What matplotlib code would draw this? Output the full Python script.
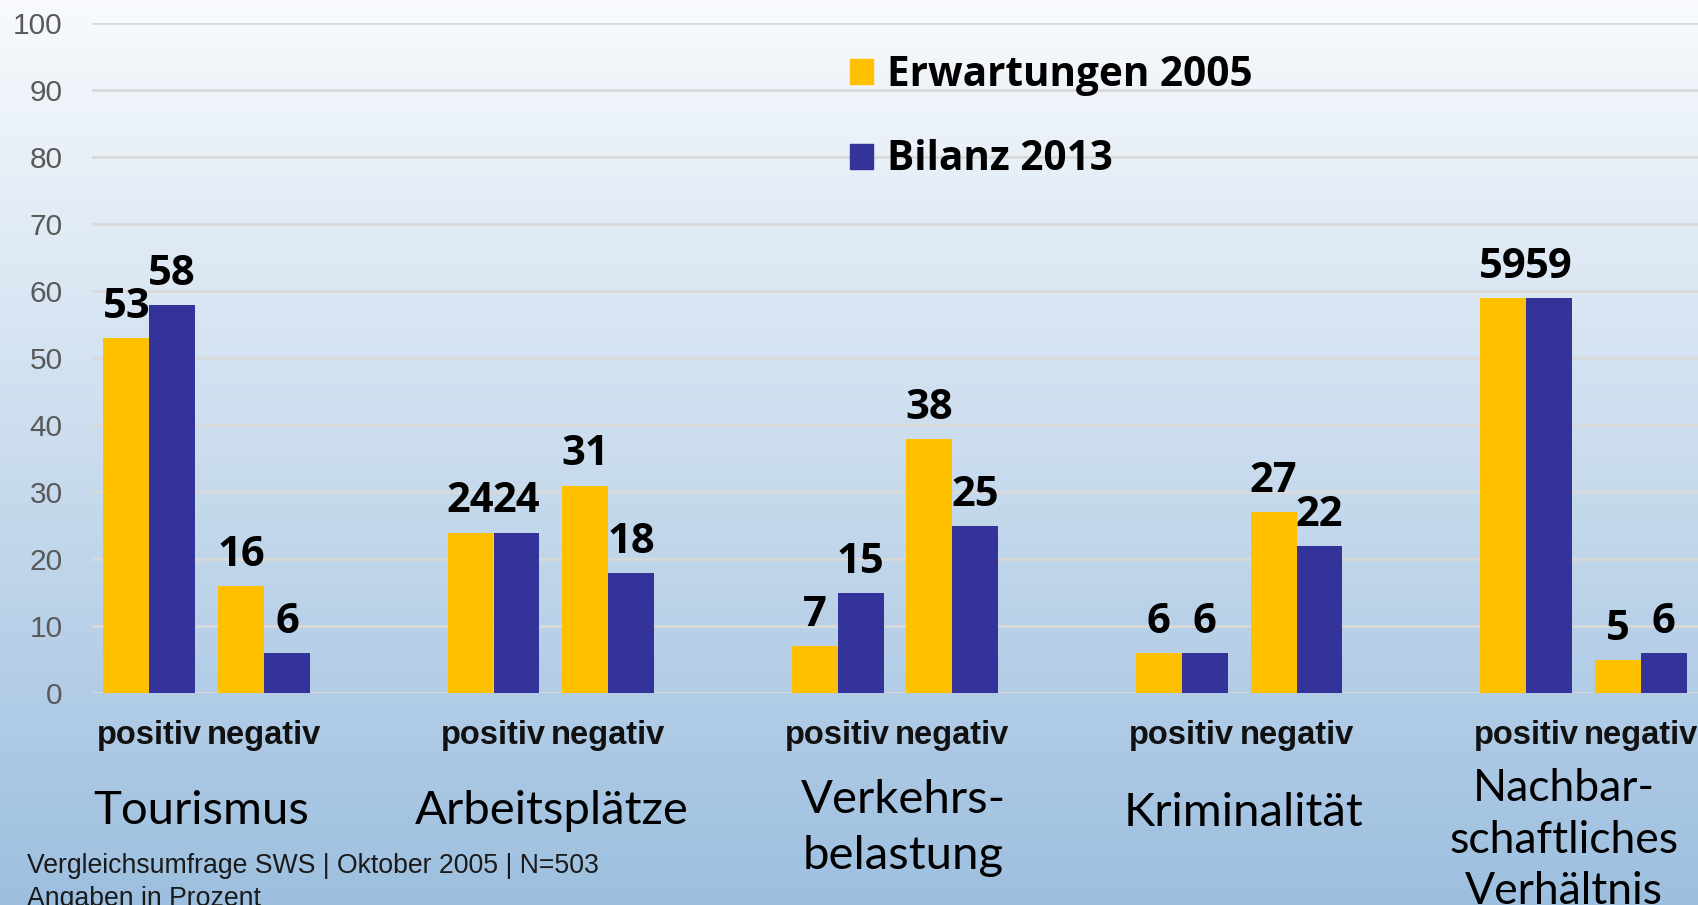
import numpy as np
import matplotlib
matplotlib.use("Agg")
import matplotlib.pyplot as plt
import matplotlib.transforms as mtransforms
from matplotlib.patches import Patch

categories = ["Tourismus", "Arbeitsplätze", "Verkehrs-\nbelastung", "Kriminalität",
              "Nachbar-\nschaftliches\nVerhältnis"]
sub_labels = ["positiv", "negativ"]
erwartungen_pos = [53, 24, 7, 6, 59]
erwartungen_neg = [16, 31, 38, 27, 5]
bilanz_pos = [58, 24, 15, 6, 59]
bilanz_neg = [6, 18, 25, 22, 6]
yticks = [0, 10, 20, 30, 40, 50, 60, 70, 80, 90, 100]
legend_labels = ["Erwartungen 2005", "Bilanz 2013"]
footer = ["Vergleichsumfrage SWS | Oktober 2005 | N=503", "Angaben in Prozent"]

YELLOW = "#FFC000"
BLUE = "#333399"

W, H, DPI = 1698, 905, 100
fig = plt.figure(figsize=(W / DPI, H / DPI), dpi=DPI)

# gradient background
bg = fig.add_axes([0, 0, 1, 1], zorder=-10)
top_c = np.array([248, 250, 253]) / 255
bot_c = np.array([157, 191, 223]) / 255
t = np.linspace(0, 1, 256)[:, None]
grad = top_c[None, :] * (1 - t) + bot_c[None, :] * t
bg.imshow(grad[:, None, :], aspect="auto", extent=[0, 1, 0, 1])
bg.set_axis_off()

ax = fig.add_axes([92 / W, 211.7 / H, 1606 / W, 670 / H])
ax.set_facecolor("none")

n = len(categories)
pos_x = np.array([3 * i for i in range(n)])
neg_x = pos_x + 1
bw = 0.4

ery = []
bly = []
xs = []
for i in range(n):
    xs += [pos_x[i], neg_x[i]]
    ery += [erwartungen_pos[i], erwartungen_neg[i]]
    bly += [bilanz_pos[i], bilanz_neg[i]]
xs = np.array(xs)

b1 = ax.bar(xs - bw / 2, ery, width=bw, color=YELLOW, zorder=3, label=legend_labels[0])
b2 = ax.bar(xs + bw / 2, bly, width=bw, color=BLUE, zorder=3, label=legend_labels[1])

lab_font = dict(family="Open Sans", weight="bold", size=30, color="black")
for bars in (b1, b2):
    for r in bars:
        h = r.get_height()
        ax.annotate(f"{h:g}", (r.get_x() + r.get_width() / 2, h),
                    xytext=(0, 14.5), textcoords="offset points",
                    ha="center", va="baseline", annotation_clip=False, **lab_font)

ax.set_xlim(-0.5, 13.5)
ax.set_ylim(0, 100)
ax.set_yticks(yticks)
ax.set_yticklabels([str(v) for v in yticks], family="Liberation Sans", fontsize=21.5, color="#595959")
ax.set_xticks(xs)
ax.set_xticklabels(sub_labels * n, family="Liberation Sans", weight="bold", fontsize=23.5, color="#111111")
ax.tick_params(axis="both", length=0)
ax.tick_params(axis="y", pad=21)
ax.tick_params(axis="x", pad=19.5)
ax.grid(axis="y", color="#d9d9d9", linewidth=2, zorder=0)
for s in ax.spines.values():
    s.set_visible(False)

# category names
tr = mtransforms.blended_transform_factory(ax.transData, fig.transFigure)
cat_x = [0.5 + pos_x[0] - 0.05, 0.5 + pos_x[1] + 0.01, 0.5 + pos_x[2] + 0.07,
         0.5 + pos_x[3] + 0.035, pos_x[4] + 0.33]
cat_y = [811, 811, 828, 813, 840]
cat_size = [34, 34, 34, 34, 32]
cat_ls = [1.15, 1.15, 1.42, 1.15, 1.33]
for i, c in enumerate(categories):
    ax.text(cat_x[i], 1 - cat_y[i] / H, c, transform=tr, ha="center", va="center",
            family="Lato", fontsize=cat_size[i], color="black", linespacing=cat_ls[i])

# legend
handles = [Patch(color=YELLOW), Patch(color=BLUE)]
leg = ax.legend(handles, legend_labels, loc="upper left", bbox_to_anchor=(850 / W, 1 - 55 / H),
                bbox_transform=fig.transFigure, frameon=False,
                prop=dict(family="Open Sans", weight="bold", size=29.2),
                handlelength=0.57, handleheight=0.57, handletextpad=0.35, labelspacing=1.07,
                borderpad=0, borderaxespad=0)

# footer
for k, line in enumerate(footer):
    fig.text(27 / W, 1 - (866 + 33 * k) / H, line, ha="left", va="center",
             family="Liberation Sans", fontsize=19.2, color="#1a1a1a")

fig.savefig("out.png", dpi=DPI)
